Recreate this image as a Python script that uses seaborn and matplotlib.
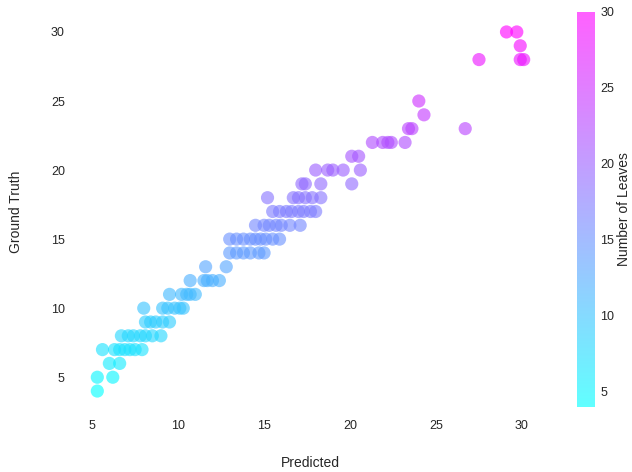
import numpy as np
import pandas as pd
import seaborn as sns
import matplotlib
import matplotlib.pyplot as plt

# Predicted values, grouped by ground-truth leaf count
rows = {
    4: [5.3],
    5: [5.3, 6.2],
    6: [6.0, 6.6],
    7: [5.6, 6.3, 6.6, 6.9, 7.2, 7.5, 7.9],
    8: [6.7, 7.1, 7.4, 7.8, 8.1, 8.5, 9.0],
    9: [8.1, 8.4, 8.7, 9.1, 9.5],
    10: [8.0, 9.1, 9.4, 9.8, 10.1, 10.3],
    11: [9.5, 10.2, 10.5, 10.7, 11.0],
    12: [10.7, 11.5, 11.7, 12.0, 12.4],
    13: [11.6, 12.8],
    14: [13.0, 13.4, 13.8, 14.2, 14.7, 15.0],
    15: [13.0, 13.4, 13.8, 14.2, 14.5, 14.8, 15.1, 15.5, 15.9],
    16: [14.5, 15.0, 15.3, 15.7, 16.0, 16.5, 17.1],
    17: [15.5, 15.9, 16.3, 16.6, 17.0, 17.3, 17.7, 18.0],
    18: [15.2, 16.7, 17.0, 17.4, 17.8, 18.3],
    19: [17.2, 17.4, 18.3, 20.1],
    20: [18.0, 18.7, 19.0, 19.6, 20.6],
    21: [20.1, 20.5],
    22: [21.3, 21.9, 22.2, 22.4, 23.2],
    23: [23.4, 23.6, 26.7],
    24: [24.3],
    25: [24.0],
    28: [27.5, 29.9, 30.1],
    29: [29.9],
    30: [29.1, 29.7],
}
ticks = [5, 10, 15, 20, 25, 30]

predicted = [p for gt, ps in rows.items() for p in ps]
ground_truth = [gt for gt, ps in rows.items() for p in ps]
df = pd.DataFrame({"Predicted": predicted, "Ground Truth": ground_truth})

sns.set_style("white")
plt.rcParams['font.family'] = ['Liberation Sans', 'DejaVu Sans']
plt.rcParams['text.color'] = '.15'
plt.rcParams['axes.labelcolor'] = '.15'
plt.rcParams['xtick.color'] = '.15'
plt.rcParams['ytick.color'] = '.15'

fig = plt.figure(figsize=(6.32, 4.72), dpi=100)
ax = fig.add_axes([76 / 632, 63 / 472, 469 / 632, 395 / 472])
cax = fig.add_axes([577 / 632, 65 / 472, 18 / 632, 395 / 472])

alpha = 0.62
sns.scatterplot(data=df, x="Predicted", y="Ground Truth", hue="Ground Truth",
                hue_norm=(4, 30), palette="cool", s=90, alpha=alpha,
                edgecolor="none", legend=False, ax=ax)

# colorbar for the hue scale
sm = matplotlib.cm.ScalarMappable(norm=matplotlib.colors.Normalize(4, 30), cmap="cool")
cbar = fig.colorbar(sm, cax=cax, alpha=alpha)
cbar.outline.set_visible(False)
cbar.set_ticks(ticks)
cbar.ax.tick_params(length=0, labelsize=9, pad=4)
cbar.set_label("Number of Leaves", fontsize=10, labelpad=2)

for sp in ax.spines.values():
    sp.set_visible(False)
ax.set_xticks(ticks)
ax.set_yticks(ticks)
ax.tick_params(length=0, labelsize=9, pad=8)
ax.set_xlabel("Predicted", fontsize=10, labelpad=17)
ax.set_ylabel("Ground Truth", fontsize=10, labelpad=20)

plt.savefig("out.png", dpi=100)
